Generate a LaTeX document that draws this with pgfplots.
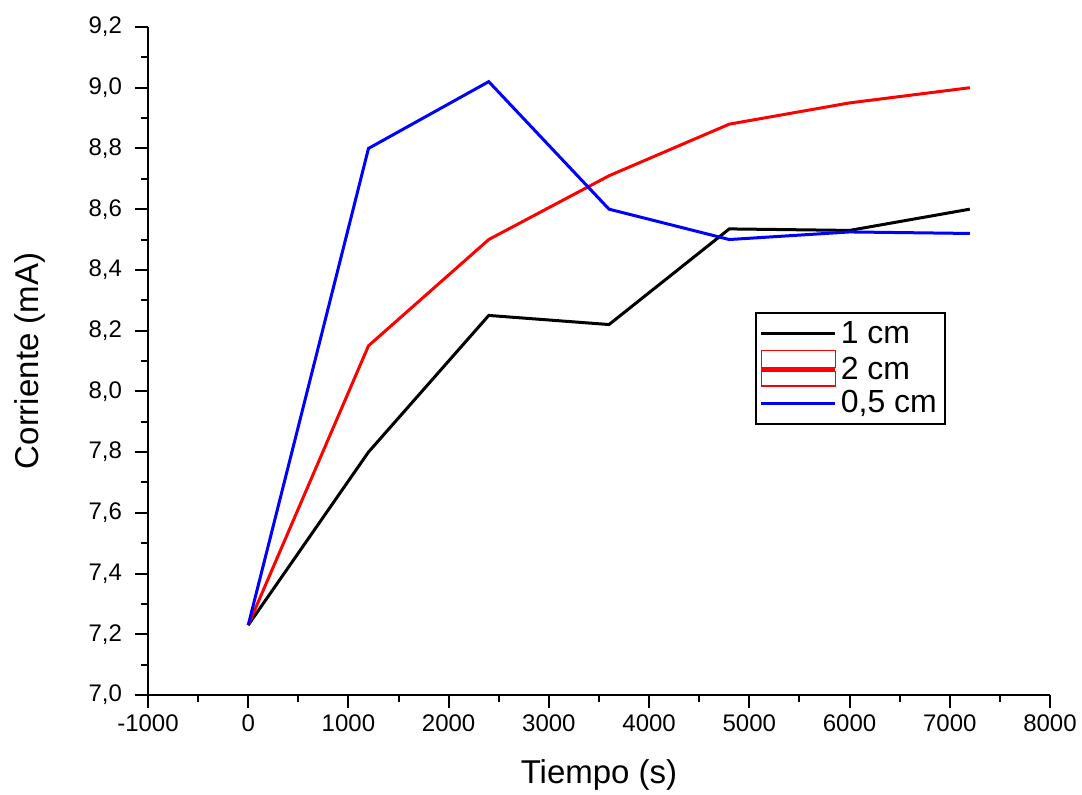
\documentclass[border=0pt]{standalone}
\usepackage{pgfplots}
\pgfplotsset{compat=1.18}
\usepackage{fontspec}
\setmainfont{Liberation Sans}
\begin{document}
\begin{tikzpicture}
\useasboundingbox (-74pt,-50pt) rectangle (467pt,347.5pt);
\begin{axis}[
  scale only axis,
  width=451pt, height=334pt,
  xmin=-1000, xmax=8000, ymin=7.0, ymax=9.2,
  axis x line*=bottom, axis y line*=left,
  axis line style={line width=1pt},
  xtick={-1000,0,...,8000},
  ytick={7.0,7.2,...,9.21},
  minor x tick num=1, minor y tick num=1,
  tick align=outside,
  major tick length=6.5pt, minor tick length=3.5pt,
  every tick/.style={line width=1pt, black},
  /pgf/number format/assume math mode=true,
  x tick label style={/pgf/number format/1000 sep={}, font=\fontsize{12}{14}\selectfont},
  y tick label style={/pgf/number format/.cd, fixed, fixed zerofill, precision=1, use comma, /tikz/.cd, font=\fontsize{12}{14}\selectfont, xshift=-3pt},
  xlabel={Tiempo (s)}, ylabel={Corriente (mA)},
  every axis x label/.style={at={(axis description cs:0.5,-0.12)}, anchor=center, font=\fontsize{16.5}{19}\selectfont},
  every axis y label/.style={at={(axis description cs:-0.131,0.5)}, rotate=90, anchor=center, font=\fontsize{16.5}{19}\selectfont},
  legend style={at={(0.673,0.573)}, anchor=north west, draw=black, line width=0.8pt,
    font=\fontsize{16}{18}\selectfont, row sep=0pt, inner sep=2pt},
  legend cell align=left,
  legend image code/.code={\draw[#1, line width=1.5pt] (0cm,0cm) -- (1.3cm,0cm);},
]
\addplot[black, line width=1.5pt] coordinates {(0,7.23) (1200,7.80) (2400,8.25) (3600,8.22) (4800,8.535) (6000,8.53) (7200,8.60)};
\addlegendentry{1 cm}
\addplot[red, line width=1.5pt, legend image code/.code={
  \draw[color=red, line width=0.6pt] (0cm,0.04cm) rectangle (1.3cm,0.33cm);
  \draw[color=red, line width=0.6pt] (0cm,-0.04cm) rectangle (1.3cm,-0.29cm);
  \draw[color=red, line width=1.5pt] (0cm,0cm) -- (1.3cm,0cm);}] coordinates {(0,7.23) (1200,8.15) (2400,8.50) (3600,8.71) (4800,8.88) (6000,8.95) (7200,9.00)};
\addlegendentry{2 cm}
\addplot[blue, line width=1.5pt] coordinates {(0,7.23) (1200,8.80) (2400,9.02) (3600,8.60) (4800,8.50) (6000,8.525) (7200,8.52)};
\addlegendentry{0,5 cm}
\end{axis}
\end{tikzpicture}
\end{document}
